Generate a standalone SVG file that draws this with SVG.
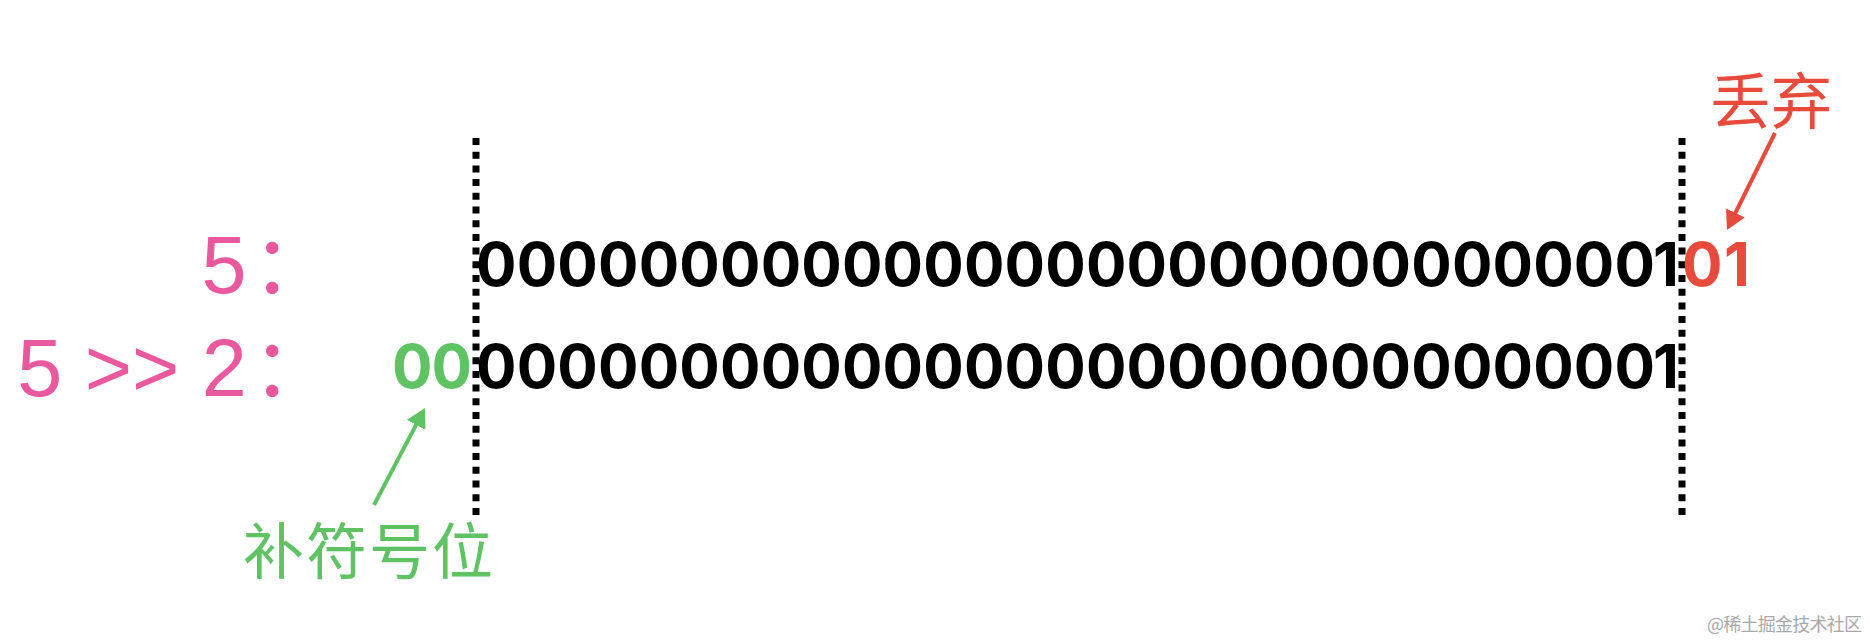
<svg xmlns="http://www.w3.org/2000/svg" width="1870" height="640" viewBox="0 0 1870 640">
  <style>
    .pink { font-family: "Liberation Sans", "Noto Sans CJK SC", sans-serif; font-size: 81px; fill: #EA589E; }
    .bits { font-family: Inter, "Liberation Sans", sans-serif; font-weight: 700; font-size: 60px; }
    .black { fill: #000000; }
    .red { fill: #E84B3C; }
    .green { fill: #5FC364; }
    .cjk { font-family: "Noto Sans CJK SC", sans-serif; font-size: 61px; }
    .divider { stroke: #000000; stroke-width: 7; stroke-dasharray: 7 6.7; fill: none; }
    .wm { font-family: "Noto Sans CJK SC", sans-serif; font-size: 18px; fill: #A8A8A8; }
  </style>
  <defs>
    <marker id="headRed" viewBox="0 0 19 21" refX="9" refY="10.5" markerWidth="19" markerHeight="21" markerUnits="userSpaceOnUse" orient="auto">
      <path d="M0,0 L19,10.5 L0,21 z" fill="#E84B3C"/>
    </marker>
    <marker id="headGreen" viewBox="0 0 19 21" refX="9" refY="10.5" markerWidth="19" markerHeight="21" markerUnits="userSpaceOnUse" orient="auto">
      <path d="M0,0 L19,10.5 L0,21 z" fill="#5FC364"/>
    </marker>
  </defs>
  <rect width="1870" height="640" fill="#ffffff"/>

  <g id="dividers">
    <line class="divider" x1="476" y1="138" x2="476" y2="515"/>
    <line class="divider" x1="1682" y1="138" x2="1682" y2="515"/>
  </g>

  <g id="label-5">
    <text class="pink" x="201.5" y="293">5<tspan x="252">：</tspan></text>
  </g>
  <g id="label-5-shift-2">
    <text class="pink" x="17.2" y="396">5 &gt;&gt; 2<tspan x="252">：</tspan></text>
  </g>

  <g id="row-5">
    <text class="bits black" x="476" y="286" textLength="1179" lengthAdjust="spacing">00000000000000000000000000000</text>
    <text class="bits black" x="1653" y="286">1</text>
    <text class="bits red" x="1682" y="286">0</text>
    <text class="bits red" x="1724" y="286">1</text>
  </g>

  <g id="row-5-shift-2">
    <text class="bits green" x="392" y="388" textLength="80" lengthAdjust="spacing">00</text>
    <text class="bits black" x="476" y="388" textLength="1179" lengthAdjust="spacing">00000000000000000000000000000</text>
    <text class="bits black" x="1653" y="388">1</text>
  </g>

  <g id="label-discard">
    <text class="cjk red" x="1710" y="124">丢弃</text>
  </g>
  <g id="label-sign-fill">
    <text class="cjk green" x="243" y="574" font-size="62" letter-spacing="2">补符号位</text>
  </g>

  <g id="connectors">
    <line x1="1775" y1="133" x2="1731.4" y2="221" stroke="#E84B3C" stroke-width="4" marker-end="url(#headRed)"/>
    <line x1="374" y1="505" x2="420.3" y2="416.9" stroke="#5FC364" stroke-width="4" marker-end="url(#headGreen)"/>
  </g>

  <g id="watermark">
    <text class="wm" x="1707" y="631" textLength="155" lengthAdjust="spacing">@稀土掘金技术社区</text>
  </g>
</svg>
